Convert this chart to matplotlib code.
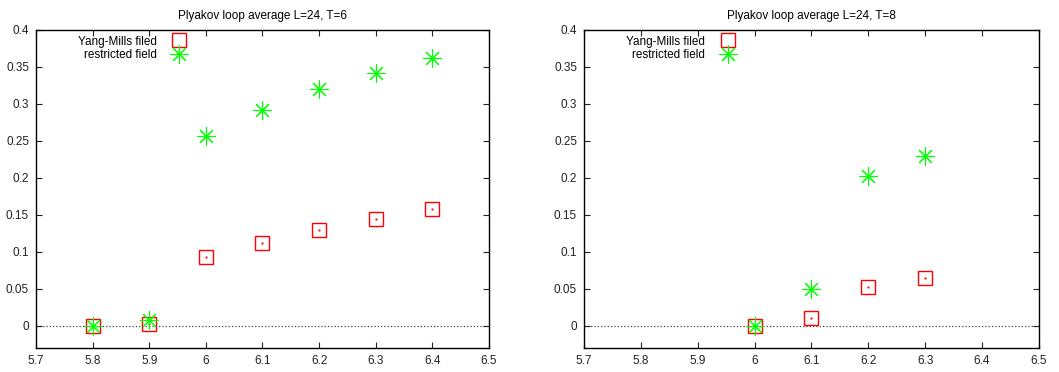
import matplotlib
matplotlib.use("Agg")
import matplotlib.pyplot as plt
import numpy as np

plt.rcParams['font.family'] = ['Liberation Sans', 'DejaVu Sans']
plt.rcParams['font.size'] = 8.5

# beta values and Polyakov loop averages
beta_t6 = [5.8, 5.9, 6.0, 6.1, 6.2, 6.3, 6.4]
ym_t6 = [0.0, 0.002, 0.093, 0.112, 0.129, 0.144, 0.158]
rf_t6 = [0.0, 0.008, 0.256, 0.292, 0.320, 0.342, 0.362]

beta_t8 = [6.0, 6.1, 6.2, 6.3]
ym_t8 = [0.0, 0.011, 0.053, 0.065]
rf_t8 = [0.0, 0.050, 0.203, 0.229]

titles = ["Plyakov loop average L=24, T=6", "Plyakov loop average L=24, T=8"]
xticks = [5.7, 5.8, 5.9, 6.0, 6.1, 6.2, 6.3, 6.4, 6.5]
yticks = [0, 0.05, 0.1, 0.15, 0.2, 0.25, 0.3, 0.35, 0.4]

fig = plt.figure(figsize=(10.59, 3.72), dpi=100)
ax1 = fig.add_axes([36/1059, 1-348/372, 453/1059, 318/372])
ax2 = fig.add_axes([584/1059, 1-348/372, 455/1059, 318/372])

star = (8, 2, 0)

for ax, x, ym, rf, title in [(ax1, beta_t6, ym_t6, rf_t6, titles[0]),
                             (ax2, beta_t8, ym_t8, rf_t8, titles[1])]:
    ax.axhline(0, color='#444444', linestyle=':', linewidth=0.9, zorder=1)
    ax.plot(x, ym, linestyle='none', marker='s', markersize=10, markerfacecolor='none',
            markeredgecolor='#ff0000', markeredgewidth=1.0, label='Yang-Mills filed', zorder=3)
    ax.plot(x, ym, linestyle='none', marker='.', markersize=1.2, color='#ff0000', zorder=3)
    ax.plot(x, rf, linestyle='none', marker=star, markersize=13, color='#00ff00',
            markeredgewidth=0.8, label='restricted field', zorder=4)
    ax.set_xlim(5.7, 6.5)
    ax.set_ylim(-0.03, 0.4)
    ax.set_xticks(xticks)
    ax.set_xticklabels(['5.7', '5.8', '5.9', '6', '6.1', '6.2', '6.3', '6.4', '6.5'])
    ax.set_yticks(yticks)
    ax.set_yticklabels(['0', '0.05', '0.1', '0.15', '0.2', '0.25', '0.3', '0.35', '0.4'])
    ax.tick_params(direction='in', top=True, right=True, length=4, width=0.8,
                   labelsize=8.5, colors='#222222', pad=5)
    ax.tick_params(axis='y', pad=5)
    for s in ax.spines.values():
        s.set_linewidth(1.0)
    ax.set_title(title, fontsize=8.5, pad=8)
    ax.legend(loc='upper right', bbox_to_anchor=(0.334, 0.99), markerfirst=False,
              frameon=False, borderaxespad=0, borderpad=0.2, handlelength=1.0,
              handletextpad=1.4, labelspacing=0.15, fontsize=8.5)

fig.savefig('out.png', dpi=100)
